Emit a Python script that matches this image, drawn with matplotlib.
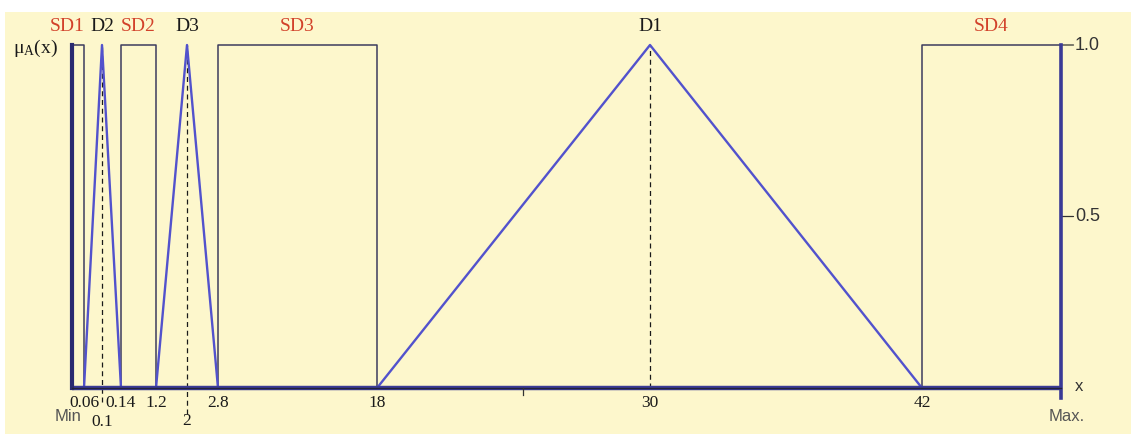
"""Fuzzy membership functions on a piecewise (non-linear) x axis."""
import numpy as np
import matplotlib
matplotlib.use("Agg")
import matplotlib.pyplot as plt

BG = "#fdf7cc"
RECT = "#3c3c5e"
TRI = "#5252cc"
AXIS = "#3a3a96"
RED = "#d2422a"
INK = "#1a1a1a"
SERIF = ["Liberation Serif", "DejaVu Serif"]
SANS = ["Liberation Sans Narrow", "Liberation Sans", "DejaVu Sans"]

X_MAX = 50.0  # stands in for "Max."

# rectangular sets (start, end)
sd_names = ["SD1", "SD2", "SD3", "SD4"]
sd_start = [0.0, 0.14, 2.8, 42.0]
sd_end = [0.06, 1.2, 18.0, X_MAX]

# triangular sets (left, peak, right)
d_names = ["D2", "D3", "D1"]
d_left = [0.06, 1.2, 18.0]
d_peak = [0.1, 2.0, 30.0]
d_right = [0.14, 2.8, 42.0]

tick_top = [0.06, 0.14, 1.2, 2.8, 18, 30, 42]
tick_top_labels = ["0.06", "0.14", "1.2", "2.8", "18", "30", "42"]
tick_low = [0.1, 2.0]
tick_low_labels = ["0.1", "2"]

# piecewise-linear axis: value breakpoints and their relative screen spacing
BREAKS = [0, 0.06, 0.1, 0.14, 1.2, 2, 2.8, 18, 30, 42, X_MAX]
SPACING = [0, 12, 30, 49, 84, 115, 146, 305, 578, 850, 989]


def fwd(x):
    return np.interp(x, BREAKS, SPACING)


def inv(p):
    return np.interp(p, SPACING, BREAKS)


fig = plt.figure(figsize=(11.31, 4.34), dpi=100)
fig.patch.set_facecolor("white")
# yellow panel behind everything
fig.patches.append(plt.Rectangle((0.004, 0.0), 0.996, 0.972, transform=fig.transFigure,
                                 facecolor=BG, edgecolor="none", zorder=-10))

W, H = 1131, 434
ax = fig.add_axes([72 / W, 46 / H, (1061 - 72) / W, (389 - 46) / H])
ax.patch.set_alpha(0)
ax.set_xscale("function", functions=(fwd, inv))
ax.set_xlim(0, X_MAX)
ax.set_ylim(0, 1)
for s in ax.spines.values():
    s.set_visible(False)
ax.set_xticks([])
ax.set_yticks([])
ax.minorticks_off()

# rectangles
for a, b in zip(sd_start, sd_end):
    ax.plot([a, a, b, b], [0, 1, 1, 0], color=RECT, lw=1.1, clip_on=False, zorder=3)

# triangles
for l, p, r in zip(d_left, d_peak, d_right):
    ax.plot([l, p, r], [0, 1, 0], color=TRI, lw=1.7, clip_on=False, zorder=4)

# dashed peak guides
guide_bottom = {0.1: -0.04, 2.0: -0.075, 30.0: 0.0}
for p in d_peak:
    ax.plot([p, p], [guide_bottom[p], 1], color=INK, lw=0.9, ls=(0, (4, 3)),
            clip_on=False, zorder=2)

# axes lines
ax.plot([0, X_MAX], [0, 0], color=AXIS, lw=3.2, clip_on=False, zorder=5, solid_capstyle="butt")
ax.plot([0, X_MAX], [0, 0], color="#23233a", lw=1.0, clip_on=False, zorder=6)
ax.plot([0, 0], [0, 1], color="#2a2a70", lw=3.0, clip_on=False, zorder=5)
ax.plot([X_MAX, X_MAX], [-0.03, 1], color=AXIS, lw=2.6, clip_on=False, zorder=5)

# right-hand membership ticks
for yv, lab in [(1.0, "1.0"), (0.5, "0.5")]:
    ax.annotate("", xy=(X_MAX, yv), xytext=(9, 0), textcoords="offset points",
                arrowprops=dict(arrowstyle="-", color="#333", lw=0.9, shrinkA=0, shrinkB=0))
    ax.annotate(lab, xy=(X_MAX, yv), xytext=(10, 0), textcoords="offset points",
                ha="left", va="center", fontsize=13, color="#333", family=SANS)
ax.annotate("x", xy=(X_MAX, 0), xytext=(10, 1), textcoords="offset points",
            ha="left", va="center", fontsize=12, color="#333", family=SANS)
ax.annotate("Max.", xy=(X_MAX, 0), xytext=(4, -26), textcoords="offset points",
            ha="center", va="bottom", fontsize=12, color="#555", family=SANS)
# small minor tick between 18 and 30
ax.plot([24.4, 24.4], [0, -0.02], color="#333", lw=0.9, clip_on=False, zorder=6)

# x tick labels
for v, lab in zip(tick_top, tick_top_labels):
    ax.annotate(lab, xy=(v, 0), xytext=(0, -5), textcoords="offset points",
                ha="center", va="top", fontsize=12.5, color=INK, family=SERIF)
for v, lab in zip(tick_low, tick_low_labels):
    dy = -19 if v < 1 else -18
    ax.annotate(lab, xy=(v, 0), xytext=(0, dy), textcoords="offset points",
                ha="center", va="top", fontsize=12.5, color=INK, family=SERIF)
ax.annotate("Min", xy=(0, 0), xytext=(-3, -15), textcoords="offset points",
            ha="center", va="top", fontsize=12, color="#555", family=SANS)

# set names above each shape
for n, a, b in zip(sd_names, sd_start, sd_end):
    mid = inv((fwd(a) + fwd(b)) / 2)
    dx = -8 if n == "SD1" else 0
    ax.annotate(n, xy=(mid, 1), xytext=(dx, 7), textcoords="offset points",
                ha="center", va="bottom", fontsize=14, color=RED, family=SERIF)
for n, p in zip(d_names, d_peak):
    ax.annotate(n, xy=(p, 1), xytext=(0, 7), textcoords="offset points",
                ha="center", va="bottom", fontsize=14, color=INK, family=SERIF)

fig.text(35 / W, 1 - 48 / H, r"$\mathregular{\mu_A}$(x)", ha="center", va="center",
         fontsize=14, color=INK, family=SERIF)

fig.savefig("out.png", dpi=100, facecolor="white")
